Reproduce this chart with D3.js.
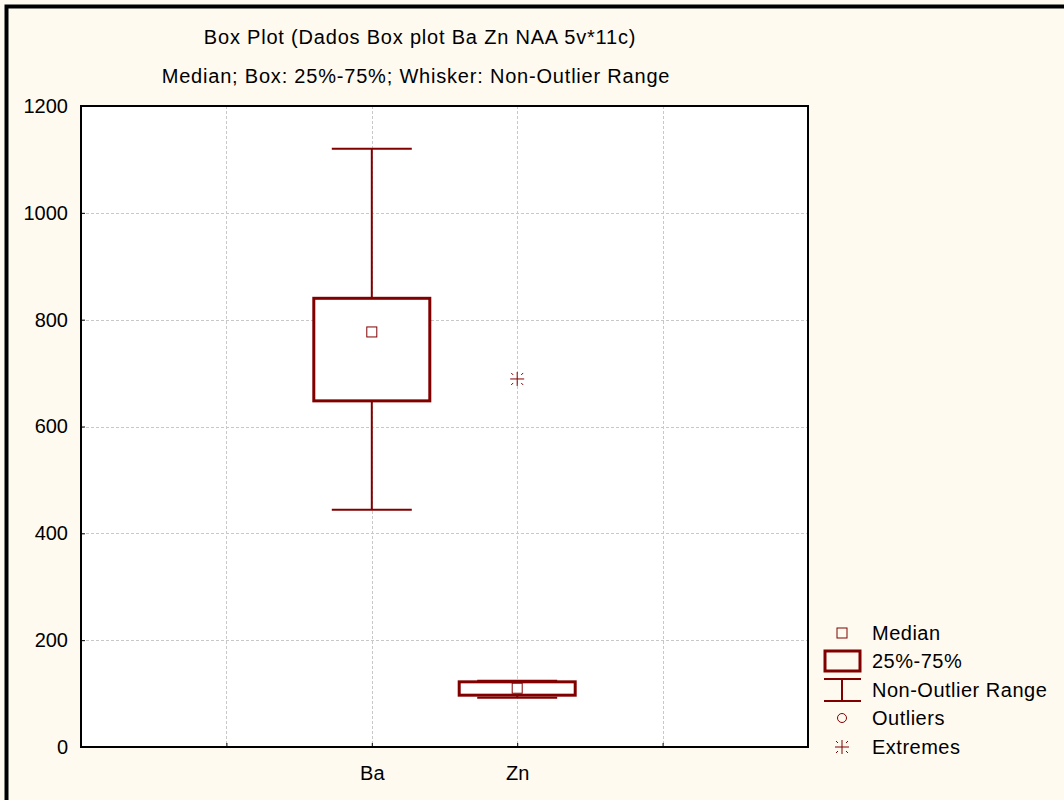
<!DOCTYPE html>
<html>
<head>
<meta charset="utf-8">
<script src="https://cdn.jsdelivr.net/npm/d3@7"></script>
<style>
  body { margin: 0; background: #fffaf0; }
  svg { display: block; font-family: "Liberation Sans", Arial, sans-serif; }
  svg text { font-family: "Liberation Sans", Arial, sans-serif; font-size: 20px; letter-spacing: 0.5px; fill: #000; }
  svg .tick text { letter-spacing: 0; }
  svg text.title { letter-spacing: 0.8px; }
</style>
</head>
<body>
<div id="chart"></div>
<script>
// data
var categories = ["Ba", "Zn"];
var medians = [777, 110];
var q1 = [648, 97];
var q3 = [840, 122];
var whiskLow = [444, 92];
var whiskHigh = [1120, 124];
var extremes = [{ cat: "Zn", value: 689 }];
var yTicks = [0, 200, 400, 600, 800, 1000, 1200];
var legendLabels = ["Median", "25%-75%", "Non-Outlier Range", "Outliers", "Extremes"];

var W = 1064, H = 800;
var red = "#800000";

var svg = d3.select("#chart").append("svg")
    .attr("width", W)
    .attr("height", H);

svg.append("rect").attr("width", W).attr("height", H).attr("fill", "#fffaf0");
// outer frame (only top/left visible)
svg.append("rect")
    .attr("x", 6.5).attr("y", 6.5)
    .attr("width", W + 20).attr("height", H + 20)
    .attr("fill", "none").attr("stroke", "#000").attr("stroke-width", 4);

var margin = { top: 106, left: 81, right: 256, bottom: 53 },
    width = W - margin.left - margin.right,
    height = H - margin.top - margin.bottom;

var g = svg.append("g")
    .attr("transform", "translate(" + margin.left + "," + margin.top + ")");

var x = d3.scaleLinear().domain([0, 5]).range([0, width]);
var y = d3.scaleLinear().domain([0, 1200]).range([height, 0]);
var catPos = function(c) { return x(categories.indexOf(c) + 2); };

g.append("rect").attr("width", width).attr("height", height).attr("fill", "#fff");

// grid
g.selectAll(".hgrid").data(yTicks.slice(1, -1)).enter().append("line")
    .attr("x1", 0).attr("x2", width)
    .attr("y1", function(d) { return Math.round(y(d)) + 0.5; })
    .attr("y2", function(d) { return Math.round(y(d)) + 0.5; })
    .attr("stroke", "#c8c8c8").attr("stroke-dasharray", "3,2");
g.selectAll(".vgrid").data([1, 2, 3, 4]).enter().append("line")
    .attr("y1", 0).attr("y2", height)
    .attr("x1", function(d) { return Math.round(x(d)) + 0.5; })
    .attr("x2", function(d) { return Math.round(x(d)) + 0.5; })
    .attr("stroke", "#c8c8c8").attr("stroke-dasharray", "3,2");

// axes
var yAxis = g.append("g")
    .call(d3.axisLeft(y).tickValues(yTicks).tickSize(-4).tickPadding(13).tickFormat(d3.format("d")));
var xAxis = g.append("g")
    .attr("transform", "translate(0," + height + ")")
    .call(d3.axisBottom(x).tickValues([1, 2, 3, 4]).tickSize(-4).tickPadding(19)
        .tickFormat(function(d) { return categories[d - 2] || ""; }));
[yAxis, xAxis].forEach(function(a) {
    a.select(".domain").remove();
    a.selectAll("line").attr("stroke", "#000");
});

g.append("rect").attr("width", width).attr("height", height)
    .attr("fill", "none").attr("stroke", "#000").attr("stroke-width", 2);

// boxes
var boxHalf = 58, capHalf = 40;
categories.forEach(function(c, i) {
    var cx = catPos(c);
    var bg = g.append("g").attr("stroke", red).attr("fill", "none");
    bg.append("line").attr("x1", cx).attr("x2", cx)
        .attr("y1", y(q3[i])).attr("y2", y(whiskHigh[i])).attr("stroke-width", 2);
    bg.append("line").attr("x1", cx).attr("x2", cx)
        .attr("y1", y(q1[i])).attr("y2", y(whiskLow[i])).attr("stroke-width", 2);
    [whiskHigh[i], whiskLow[i]].forEach(function(v) {
        bg.append("line").attr("x1", cx - capHalf).attr("x2", cx + capHalf)
            .attr("y1", y(v)).attr("y2", y(v)).attr("stroke-width", 2);
    });
    bg.append("rect")
        .attr("x", cx - boxHalf).attr("y", y(q3[i]))
        .attr("width", boxHalf * 2).attr("height", y(q1[i]) - y(q3[i]))
        .attr("fill", "#fff").attr("stroke-width", 3);
    bg.append("rect")
        .attr("x", cx - 5).attr("y", y(medians[i]) - 5)
        .attr("width", 10).attr("height", 10)
        .attr("fill", "#fff").attr("stroke-width", 1);
});

function star(sel, cx, cy) {
    var s = sel.append("g").attr("stroke", red).attr("stroke-width", 1);
    s.append("line").attr("x1", cx - 7).attr("x2", cx + 7).attr("y1", cy).attr("y2", cy);
    s.append("line").attr("x1", cx).attr("x2", cx).attr("y1", cy - 7).attr("y2", cy + 7);
    [[-1, -1], [1, -1], [-1, 1], [1, 1]].forEach(function(d) {
        s.append("line")
            .attr("x1", cx + d[0] * 4).attr("y1", cy + d[1] * 4)
            .attr("x2", cx + d[0] * 6).attr("y2", cy + d[1] * 6);
    });
}
extremes.forEach(function(e) { star(g, catPos(e.cat), y(e.value)); });

// titles
svg.append("text").attr("class", "title").attr("x", 420).attr("y", 44).attr("text-anchor", "middle")
    .text("Box Plot (Dados Box plot Ba Zn NAA 5v*11c)");
svg.append("text").attr("class", "title").attr("x", 416).attr("y", 83).attr("text-anchor", "middle")
    .text("Median; Box: 25%-75%; Whisker: Non-Outlier Range");

// legend
var lx = 842, rowY = [633, 661, 690, 718, 747];
var lg = svg.append("g");
lg.append("rect").attr("x", lx - 5).attr("y", rowY[0] - 5).attr("width", 10).attr("height", 10)
    .attr("fill", "none").attr("stroke", red);
lg.append("rect").attr("x", lx - 17).attr("y", rowY[1] - 10).attr("width", 35).attr("height", 20)
    .attr("fill", "none").attr("stroke", red).attr("stroke-width", 3);
lg.append("line").attr("x1", lx - 18).attr("x2", lx + 19).attr("y1", rowY[2] - 11).attr("y2", rowY[2] - 11)
    .attr("stroke", red).attr("stroke-width", 2);
lg.append("line").attr("x1", lx - 18).attr("x2", lx + 19).attr("y1", rowY[2] + 11).attr("y2", rowY[2] + 11)
    .attr("stroke", red).attr("stroke-width", 2);
lg.append("line").attr("x1", lx).attr("x2", lx).attr("y1", rowY[2] - 11).attr("y2", rowY[2] + 11)
    .attr("stroke", red).attr("stroke-width", 2);
lg.append("circle").attr("cx", lx).attr("cy", rowY[3]).attr("r", 4.5)
    .attr("fill", "none").attr("stroke", red);
star(lg, lx, rowY[4]);
lg.selectAll(".lt").data(legendLabels).enter().append("text")
    .attr("x", 872).attr("y", function(d, i) { return rowY[i] + 7; })
    .text(function(d) { return d; });
</script>
</body>
</html>
